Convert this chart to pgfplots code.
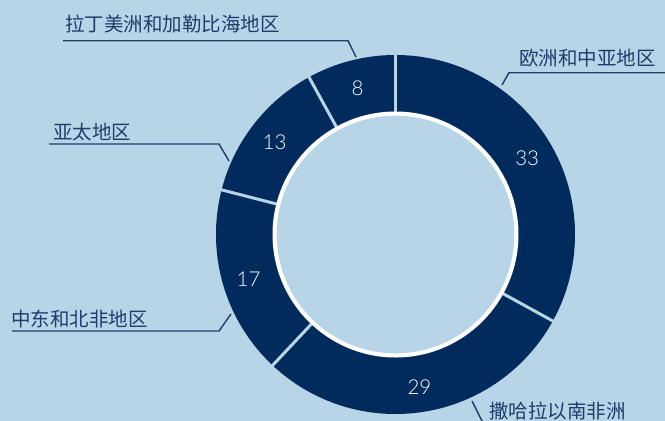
\documentclass[border=0pt]{standalone}
\usepackage{pgfplots}
\usepackage{pgfplotstable}
\pgfplotsset{compat=1.18}
\usepackage{fontspec}
\newfontfamily\cjk{Noto Sans CJK SC}
\newfontfamily\numfont{Lato}[UprightFont=* Light]
\definecolor{bgc}{HTML}{B8D5E8}
\definecolor{navy}{HTML}{002B5C}
\definecolor{txt}{HTML}{1E3C6C}

\pgfplotstableread{
region value
EuropeCentralAsia 33
SubSaharanAfrica 29
MENA 17
AsiaPacific 13
LatinAmerica 8
}\datatable

\begin{document}
\begin{tikzpicture}
\gdef\cum{0}
\foreach \i in {0,...,4}{%
  \pgfplotstablegetelem{\i}{value}\of\datatable
  \let\v\pgfplotsretval
  \pgfmathsetmacro\s{3.6*\cum}%
  \pgfmathsetmacro\m{3.6*(\cum+\v/2)}%
  \pgfmathsetmacro\c{\cum+\v}%
  \expandafter\xdef\csname sa\i\endcsname{\s}%
  \expandafter\xdef\csname ma\i\endcsname{\m}%
  \expandafter\xdef\csname val\i\endcsname{\v}%
  \xdef\cum{\c}%
}
\begin{axis}[
  x=1bp, y=1bp,
  xmin=0, xmax=665, ymin=0, ymax=421,
  y dir=reverse,
  hide axis,
  anchor=south west, at={(0,0)},
]
\fill[bgc] (axis cs:0,0) rectangle (axis cs:665,421);
\fill[navy] (axis cs:395.5,234.5) circle[radius=179.5bp];
\pgfplotsinvokeforeach{0,...,4}{
  \draw[bgc, line width=3bp] (axis cs:395.5,234.5) -- (axis cs:{395.5+190*sin(\csname sa#1\endcsname)},{234.5-190*cos(\csname sa#1\endcsname)});
  \node[text=white, font=\numfont\fontsize{20.5bp}{22bp}\selectfont, inner sep=0pt] at (axis cs:{395.5+153*sin(\csname ma#1\endcsname)},{236.5-153*cos(\csname ma#1\endcsname)}) {\csname val#1\endcsname};
}
\fill[white] (axis cs:395.5,234.5) circle[radius=123bp];
\fill[bgc] (axis cs:395.5,234.5) circle[radius=118.8bp];

% leader lines
\draw[txt, line width=1.4bp] (axis cs:63,40.7) -- (axis cs:348,40.7) -- (axis cs:356,57);
\draw[txt, line width=1.4bp] (axis cs:502,85) -- (axis cs:509,72.7) -- (axis cs:670,72.7);
\draw[txt, line width=1.4bp] (axis cs:49,144) -- (axis cs:219,144) -- (axis cs:229,161);
\draw[txt, line width=1.4bp] (axis cs:12,331) -- (axis cs:219,331) -- (axis cs:231,314);
\draw[txt, line width=1.4bp] (axis cs:472,401) -- (axis cs:484,425);

% labels
\begin{scope}[every node/.style={text=txt, font=\cjk\fontsize{19.5bp}{21bp}\selectfont, inner sep=0pt, anchor=west}]
\node at (axis cs:65,24.5) {拉丁美洲和加勒比海地区};
\node at (axis cs:519,58) {欧洲和中亚地区};
\node at (axis cs:53,132) {亚太地区};
\node at (axis cs:11,319) {中东和北非地区};
\node at (axis cs:489,411) {撒哈拉以南非洲};
\end{scope}
\end{axis}
\pgfresetboundingbox
\path (0,0) rectangle (665bp,421bp);
\end{tikzpicture}
\end{document}
